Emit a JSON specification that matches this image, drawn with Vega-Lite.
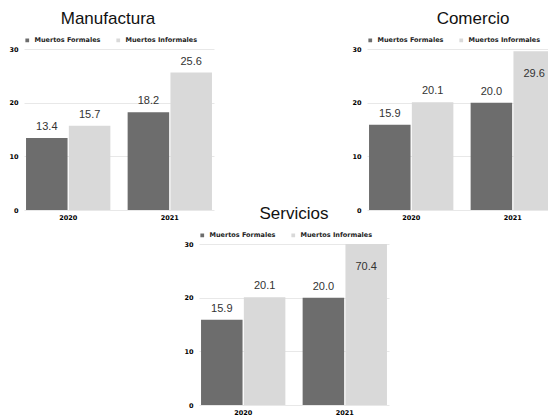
{
  "$schema": "https://vega.github.io/schema/vega-lite/v6.json",
  "background": "white",
  "padding": {"left": 8, "top": 10, "right": 0, "bottom": 0},
  "config": {
    "view": {"stroke": null},
    "font": "Liberation Sans",
    "title": {"fontSize": 17, "fontWeight": "normal", "color": "#111", "anchor": "middle", "offset": 9},
    "axis": {"labelFont": "DejaVu Sans", "labelFontWeight": "bold", "labelFontSize": 6.5, "labelColor": "#000", "ticks": false, "domain": false, "title": null},
    "legend": {"orient": "top", "direction": "horizontal", "title": null, "labelFont": "DejaVu Sans", "labelFontWeight": "bold", "labelFontSize": 6.5, "labelColor": "#222", "symbolType": "square", "symbolSize": 14, "columnPadding": 14, "offset": 5, "padding": 0}
  },
  "data": {"values": [
    {"panel": "Manufactura", "year": "2020", "tipo": "Muertos Formales", "value": 13.4},
    {"panel": "Manufactura", "year": "2020", "tipo": "Muertos Informales", "value": 15.7},
    {"panel": "Manufactura", "year": "2021", "tipo": "Muertos Formales", "value": 18.2},
    {"panel": "Manufactura", "year": "2021", "tipo": "Muertos Informales", "value": 25.6},
    {"panel": "Comercio", "year": "2020", "tipo": "Muertos Formales", "value": 15.9},
    {"panel": "Comercio", "year": "2020", "tipo": "Muertos Informales", "value": 20.1},
    {"panel": "Comercio", "year": "2021", "tipo": "Muertos Formales", "value": 20.0},
    {"panel": "Comercio", "year": "2021", "tipo": "Muertos Informales", "value": 29.6},
    {"panel": "Servicios", "year": "2020", "tipo": "Muertos Formales", "value": 15.9},
    {"panel": "Servicios", "year": "2020", "tipo": "Muertos Informales", "value": 20.1},
    {"panel": "Servicios", "year": "2021", "tipo": "Muertos Formales", "value": 20.0},
    {"panel": "Servicios", "year": "2021", "tipo": "Muertos Informales", "value": 70.4}
  ]},
  "spacing": -16,
  "resolve": {"legend": {"color": "independent"}, "scale": {"color": "independent"}},
  "vconcat": [
    {
      "spacing": 137,
      "resolve": {"legend": {"color": "independent"}, "scale": {"color": "independent"}},
      "hconcat": [
        {
          "title": {"text": "Manufactura", "dx": -11},
          "width": 190, "height": 161,
          "transform": [{"filter": "datum.panel === 'Manufactura'"}],
          "encoding": {
            "x": {"field": "year", "type": "nominal", "scale": {"paddingInner": 0.17, "paddingOuter": 0.02}, "axis": {"labelAngle": 0, "labelPadding": 4}},
            "xOffset": {"field": "tipo", "type": "nominal", "scale": {"paddingInner": 0.03}},
            "y": {"field": "value", "type": "quantitative", "scale": {"domain": [0, 30], "clamp": true}, "axis": {"values": [0, 10, 20, 30], "gridColor": "#e8e8e8", "labelPadding": 6}}
          },
          "layer": [
            {"mark": "bar", "encoding": {"color": {"field": "tipo", "type": "nominal", "scale": {"domain": ["Muertos Formales", "Muertos Informales"], "range": ["#6d6d6d", "#d9d9d9"]}}}},
            {"transform": [{"filter": "datum.value < 27"}], "mark": {"type": "text", "baseline": "bottom", "dy": -6, "fontSize": 11, "color": "#333"}, "encoding": {"text": {"field": "value", "type": "quantitative", "format": ".1f"}}},
            {"transform": [{"filter": "datum.value >= 27"}], "mark": {"type": "text", "baseline": "middle", "dy": 23, "fontSize": 11, "color": "#333"}, "encoding": {"text": {"field": "value", "type": "quantitative", "format": ".1f"}}}
          ]
        },
        {
          "title": {"text": "Comercio", "dx": 11},
          "width": 190, "height": 161,
          "transform": [{"filter": "datum.panel === 'Comercio'"}],
          "encoding": {
            "x": {"field": "year", "type": "nominal", "scale": {"paddingInner": 0.17, "paddingOuter": 0.02}, "axis": {"labelAngle": 0, "labelPadding": 4}},
            "xOffset": {"field": "tipo", "type": "nominal", "scale": {"paddingInner": 0.03}},
            "y": {"field": "value", "type": "quantitative", "scale": {"domain": [0, 30], "clamp": true}, "axis": {"values": [0, 10, 20, 30], "gridColor": "#e8e8e8", "labelPadding": 6}}
          },
          "layer": [
            {"mark": "bar", "encoding": {"color": {"field": "tipo", "type": "nominal", "scale": {"domain": ["Muertos Formales", "Muertos Informales"], "range": ["#6d6d6d", "#d9d9d9"]}}}},
            {"transform": [{"filter": "datum.value < 27"}], "mark": {"type": "text", "baseline": "bottom", "dy": -6, "fontSize": 11, "color": "#333"}, "encoding": {"text": {"field": "value", "type": "quantitative", "format": ".1f"}}},
            {"transform": [{"filter": "datum.value >= 27"}], "mark": {"type": "text", "baseline": "middle", "dy": 23, "fontSize": 11, "color": "#333"}, "encoding": {"text": {"field": "value", "type": "quantitative", "format": ".1f"}}}
          ]
        }
      ]
    },
    {
      "spacing": 0,
      "resolve": {"legend": {"color": "independent"}, "scale": {"color": "independent"}},
      "hconcat": [
        {
          "width": 159, "height": 10,
          "data": {"values": []},
          "mark": "point",
          "encoding": {}
        },
        {
          "title": "Servicios",
          "width": 190, "height": 161,
          "transform": [{"filter": "datum.panel === 'Servicios'"}],
          "encoding": {
            "x": {"field": "year", "type": "nominal", "scale": {"paddingInner": 0.17, "paddingOuter": 0.02}, "axis": {"labelAngle": 0, "labelPadding": 4}},
            "xOffset": {"field": "tipo", "type": "nominal", "scale": {"paddingInner": 0.03}},
            "y": {"field": "value", "type": "quantitative", "scale": {"domain": [0, 30], "clamp": true}, "axis": {"values": [0, 10, 20, 30], "gridColor": "#e8e8e8", "labelPadding": 6}}
          },
          "layer": [
            {"mark": "bar", "encoding": {"color": {"field": "tipo", "type": "nominal", "scale": {"domain": ["Muertos Formales", "Muertos Informales"], "range": ["#6d6d6d", "#d9d9d9"]}}}},
            {"transform": [{"filter": "datum.value < 27"}], "mark": {"type": "text", "baseline": "bottom", "dy": -6, "fontSize": 11, "color": "#333"}, "encoding": {"text": {"field": "value", "type": "quantitative", "format": ".1f"}}},
            {"transform": [{"filter": "datum.value >= 27"}], "mark": {"type": "text", "baseline": "middle", "dy": 23, "fontSize": 11, "color": "#333"}, "encoding": {"text": {"field": "value", "type": "quantitative", "format": ".1f"}}}
          ]
        }
      ]
    }
  ]
}
